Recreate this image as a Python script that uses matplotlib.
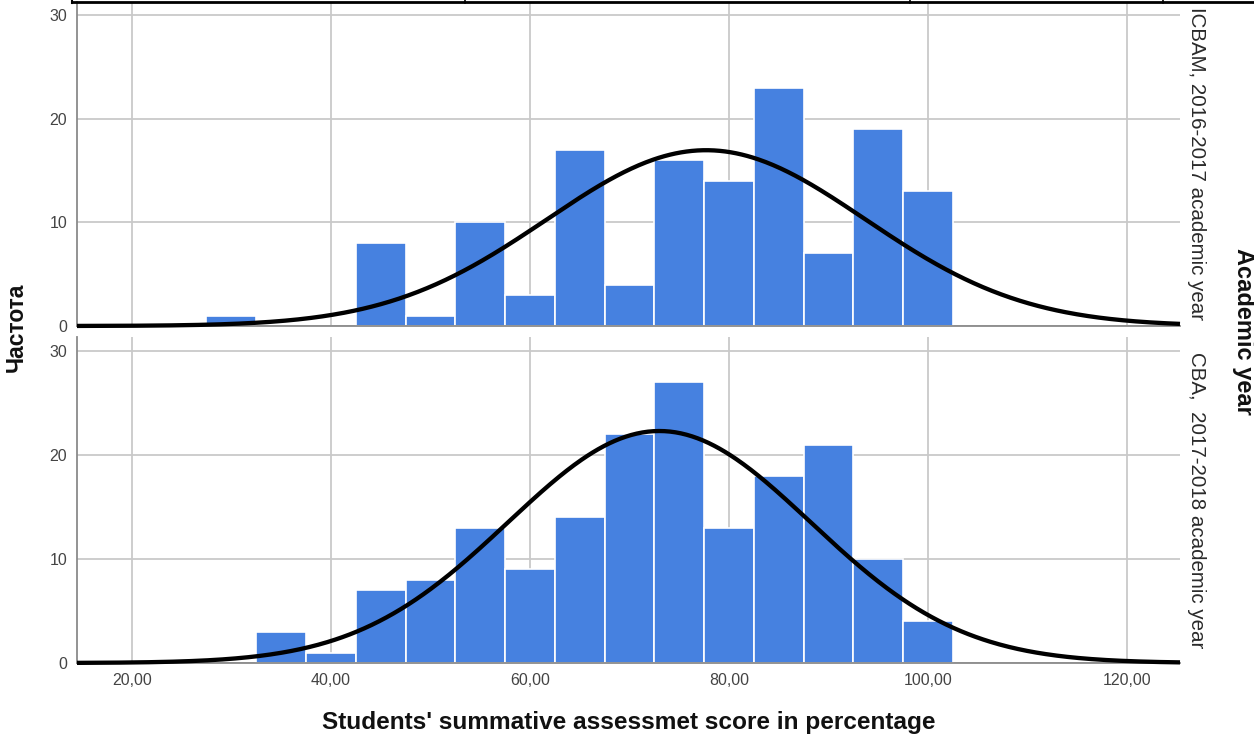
import numpy as np
import matplotlib
matplotlib.use("Agg")
import matplotlib.pyplot as plt
from matplotlib.lines import Line2D

plt.rcParams['font.family'] = ['Liberation Sans', 'DejaVu Sans']

# ---- data ----
bin_width = 5
top_centers = [30, 45, 50, 55, 60, 65, 70, 75, 80, 85, 90, 95, 100]
top_counts = [1, 8, 1, 10, 3, 17, 4, 16, 14, 23, 7, 19, 13]
top_mean, top_sd = 77.7, 16.0
top_label = "ICBAM, 2016-2017 academic year"

bot_centers = [35, 40, 45, 50, 55, 60, 65, 70, 75, 80, 85, 90, 95, 100]
bot_counts = [3, 1, 7, 8, 13, 9, 14, 22, 27, 13, 18, 21, 10, 4]
bot_mean, bot_sd = 73.0, 15.2
bot_label = "CBA,  2017-2018 academic year"

x_ticks = [20, 40, 60, 80, 100, 120]
x_tick_labels = ["20,00", "40,00", "60,00", "80,00", "100,00", "120,00"]
y_ticks = [0, 10, 20, 30]
x_title = "Students' summative assessmet score in percentage"
y_title = "Частота"
strip_title = "Academic year"

W, H = 1254, 738
fig = plt.figure(figsize=(W / 100, H / 100), dpi=100)

bar_color = '#4681e0'
grid_color = '#c9c9c9'
spine_color = '#8a8a8a'
tick_color = '#444444'

xlim = (14.5, 125.3)
left = 77 / W
width = (1180 - 77) / W

def panel(rect, centers, counts, mean, sd, ylim_top, show_x, label):
    ax = fig.add_axes(rect)
    ax.set_xlim(*xlim)
    ax.set_ylim(0, ylim_top)
    ax.set_xticks(x_ticks)
    ax.set_yticks(y_ticks)
    ax.grid(True, color=grid_color, lw=1.3)
    ax.set_axisbelow(True)
    ax.bar(centers, counts, width=bin_width, color=bar_color,
           edgecolor='white', linewidth=1.2, zorder=2)
    n = sum(counts)
    xs = np.linspace(xlim[0], xlim[1], 600)
    ys = n * bin_width * np.exp(-0.5 * ((xs - mean) / sd) ** 2) / (sd * np.sqrt(2 * np.pi))
    ax.plot(xs, ys, color='black', lw=3.1, zorder=3, solid_capstyle='butt', clip_on=False)
    for s in ['top', 'right']:
        ax.spines[s].set_visible(False)
    for s in ['left', 'bottom']:
        ax.spines[s].set_color(spine_color)
        ax.spines[s].set_linewidth(1.3)
    ax.tick_params(length=0, labelsize=11.5, labelcolor=tick_color)
    ax.tick_params(axis='y', pad=7)
    ax.tick_params(axis='x', pad=7)
    if show_x:
        ax.set_xticklabels(x_tick_labels)
    else:
        ax.set_xticklabels([])
    ax.text(1.015, 0.5, label, transform=ax.transAxes, rotation=-90,
            ha='center', va='center', fontsize=14.8, color='#2a2a2a')
    return ax

ax1 = panel([left, 1 - 326 / H, width, 324 / H], top_centers, top_counts,
            top_mean, top_sd, 31.25, False, top_label)
ax2 = panel([left, 1 - 663 / H, width, 326 / H], bot_centers, bot_counts,
            bot_mean, bot_sd, 31.35, True, bot_label)

fig.text(629 / W, 1 - 722 / H, x_title, ha='center', va='center',
         fontsize=17.6, fontweight='bold', color='#111111')
fig.text(16 / W, 1 - 327 / H, y_title, ha='center', va='center', rotation=90,
         fontsize=16.5, fontweight='bold', color='#111111')
fig.text(1243 / W, 1 - 331 / H, strip_title, ha='center', va='center', rotation=-90,
         fontsize=17, fontweight='bold', color='#111111')

# top border remnant
fig.add_artist(Line2D([72 / W, 1], [1 - 2 / H, 1 - 2 / H], color='black', lw=2.0,
                      transform=fig.transFigure))
fig.add_artist(Line2D([72 / W, 72 / W], [1, 1 - 3 / H], color='black', lw=1.5,
                      transform=fig.transFigure))
for px in [465, 910, 1163]:
    fig.add_artist(Line2D([px / W, px / W], [1, 1 - 3 / H], color='black', lw=1.2,
                          transform=fig.transFigure))

fig.savefig('out.png', dpi=100)
